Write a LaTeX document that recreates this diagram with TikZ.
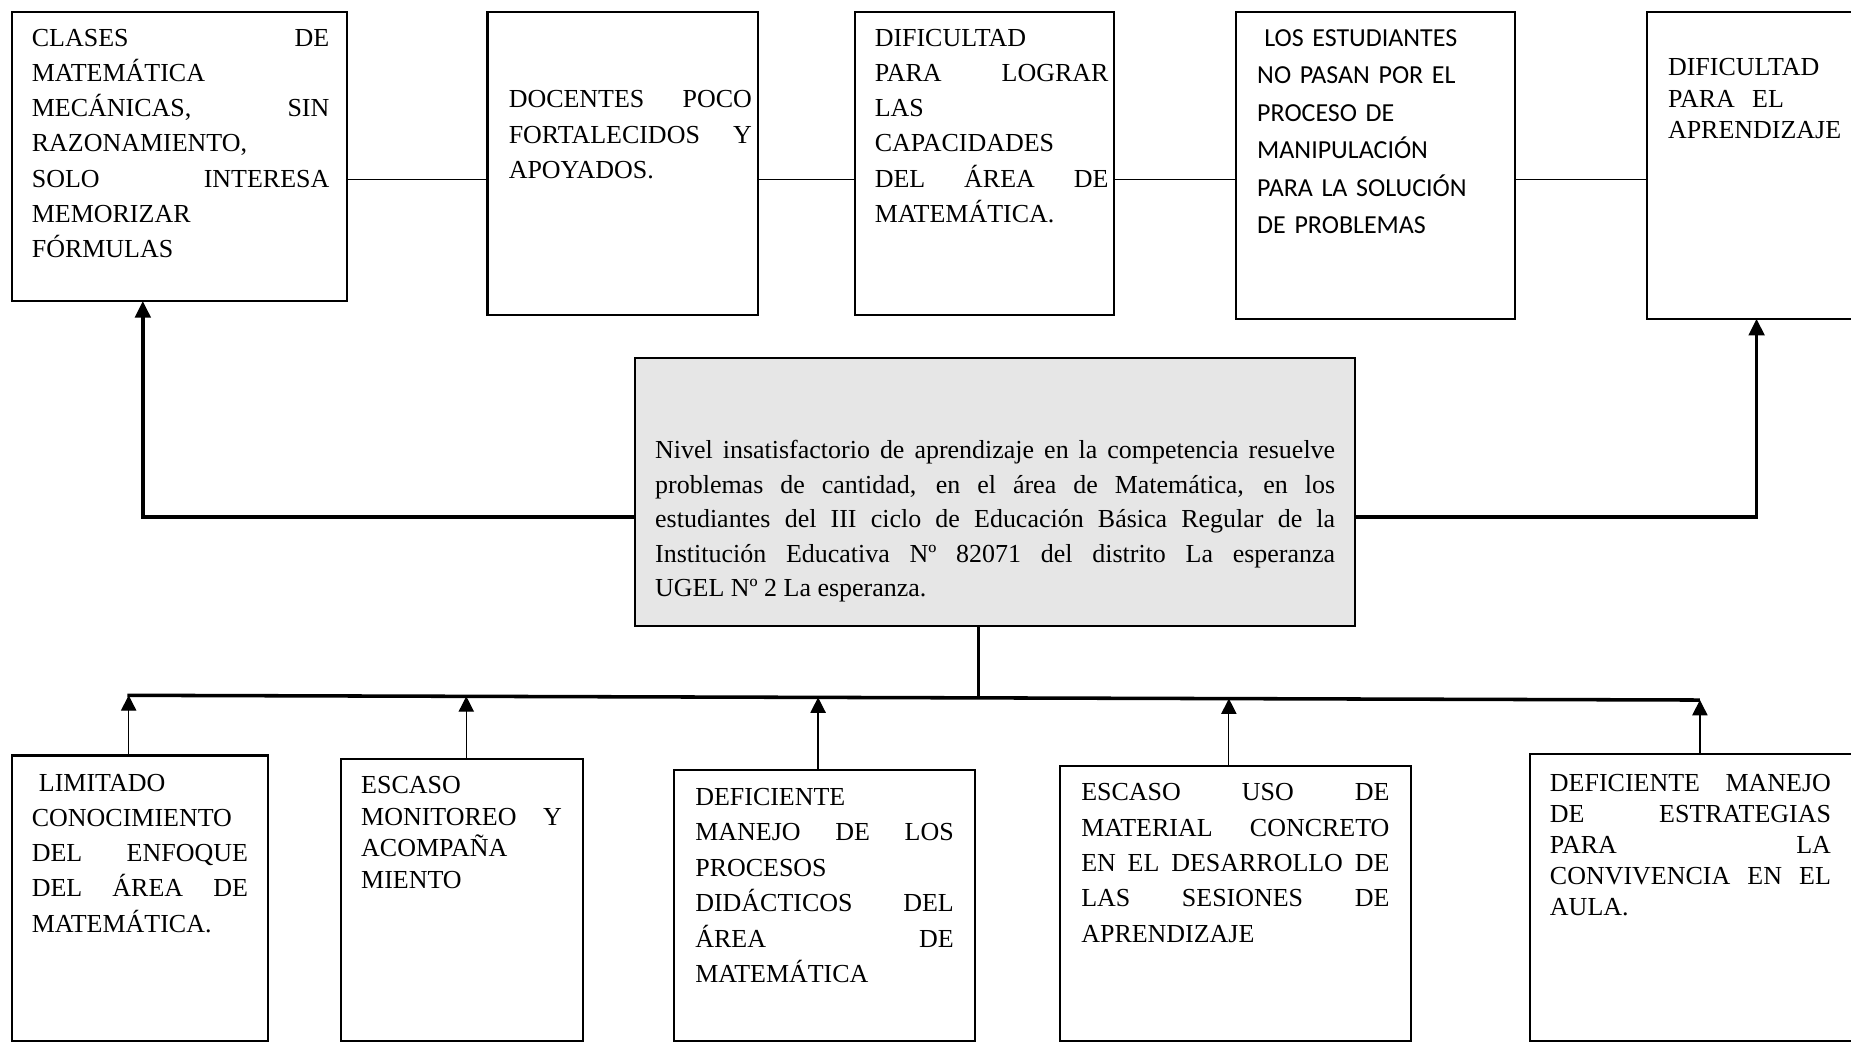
\documentclass[tikz,border=0pt]{standalone}
\usepackage{fontspec}
\setmainfont{Liberation Serif}
\newfontfamily\calibfont{Carlito}
\usetikzlibrary{arrows.meta,fit}
\definecolor{boxgray}{HTML}{E6E6E6}
\newcommand\mypar{\tolerance=10000\hyphenpenalty=10000\exhyphenpenalty=10000\hbadness=10000\relax}
\newcommand\fst{\rule{0pt}{10pt}}
\begin{document}
\begin{tikzpicture}[x=0.5pt,y=-0.5pt,
  box/.style={draw,line width=0.9pt,inner sep=0pt,outer sep=0pt},
  txt/.style={anchor=north west,inner sep=0pt,outer sep=0pt,align=justify},
  link/.style={line width=0.6pt},
  heavy/.style={line width=1.5pt},
  heavyarr/.style={line width=1.5pt,-{Triangle[width=6.5pt,length=7pt]}},
  stem/.style={line width=0.5pt,-{Triangle[width=6.5pt,length=6.5pt]}}
]
\useasboundingbox (0,0) rectangle (1568,884);
\clip (0,0) rectangle (1568,884);
\fill[white] (0,0) rectangle (1568,884);

% ---- boxes
\node[box,fit={(10,10)(294,255)}] (t1) {};
\node[box,fit={(413,10)(642,267)}] (t2) {};
\node[box,fit={(724,10)(944,267)}] (t3) {};
\node[box,fit={(1047,10)(1283,270)}] (t4) {};
\node[box,fit={(1395,10)(1620,270)}] (t5) {};
\node[box,fill=boxgray,fit={(538,303)(1148,530)}] (m) {};
\node[box,fit={(10,640)(227,882)}] (c1) {};
\node[box,fit={(289,643)(494,882)}] (c2) {};
\node[box,fit={(571,652)(826,882)}] (c3) {};
\node[box,fit={(898,649)(1195,882)}] (c4) {};
\node[box,fit={(1296,639)(1620,882)}] (c5) {};

% ---- texts
\node[txt,text width=126pt,font=\fontsize{11}{14.9}\selectfont] (t1x) at (27,19.3)
 {\mypar\fst CLASES DE\linebreak MATEMÁTICA\linebreak MECÁNICAS, SIN\linebreak RAZONAMIENTO,\linebreak SOLO INTERESA\linebreak MEMORIZAR\linebreak FÓRMULAS};
\node[txt,text width=103pt,font=\fontsize{11}{15}\selectfont] (t2x) at (431,71.3)
 {\mypar\fst DOCENTES POCO\linebreak FORTALECIDOS Y\linebreak APOYADOS.};
\node[txt,text width=99pt,font=\fontsize{11}{14.9}\selectfont] (t3x) at (741,19.3)
 {\mypar\fst DIFICULTAD\linebreak PARA LOGRAR\linebreak LAS\linebreak CAPACIDADES\linebreak DEL ÁREA DE\linebreak MATEMÁTICA.};
\node[txt,align=left,text width=115pt,font=\calibfont\fontsize{11}{15.9}\selectfont] (t4x) at (1065,19)
 {\fst\hspace*{3pt}LOS ESTUDIANTES\\ NO PASAN POR EL\\ PROCESO DE\\ MANIPULACIÓN\\ PARA LA SOLUCIÓN\\ DE PROBLEMAS};
\node[txt,align=left,text width=80pt,font=\fontsize{11}{13.25}\selectfont] (t5x) at (1413,44.3)
 {\fst DIFICULTAD\\ PARA\ \ EL\\ APRENDIZAJE};
\node[txt,text width=288pt,font=\fontsize{11}{14.65}\selectfont] (mx) at (555,368.4)
 {\mypar\fst Nivel insatisfactorio de aprendizaje en la competencia resuelve\linebreak problemas de cantidad, en el área de Matemática, en los\linebreak estudiantes del III ciclo de Educación Básica Regular de la\linebreak Institución Educativa Nº 82071 del distrito La esperanza\linebreak UGEL Nº 2 La esperanza.};
\node[txt,text width=91.5pt,font=\fontsize{11}{14.9}\selectfont] (c1x) at (27,650.3)
 {\mypar\fst\hspace*{3pt}LIMITADO\linebreak CONOCIMIENTO\linebreak DEL ENFOQUE\linebreak DEL ÁREA DE\linebreak MATEMÁTICA.};
\node[txt,text width=85pt,font=\fontsize{11}{13.35}\selectfont] (c2x) at (306,652.3)
 {\mypar\fst ESCASO\linebreak MONITOREO Y\linebreak ACOMPAÑA\linebreak MIENTO};
\node[txt,text width=109.5pt,font=\fontsize{11}{15}\selectfont] (c3x) at (589,662.3)
 {\mypar\fst DEFICIENTE\linebreak MANEJO DE LOS\linebreak PROCESOS\linebreak DIDÁCTICOS DEL\linebreak ÁREA DE\linebreak MATEMÁTICA};
\node[txt,text width=130.5pt,font=\fontsize{11}{15}\selectfont] (c4x) at (916,658.3)
 {\mypar\fst ESCASO USO DE\linebreak MATERIAL CONCRETO\linebreak EN EL DESARROLLO DE\linebreak LAS SESIONES DE\linebreak APRENDIZAJE};
\node[txt,text width=119pt,font=\fontsize{11}{13.1}\selectfont] (c5x) at (1313,650.3)
 {\mypar\fst DEFICIENTE MANEJO\linebreak DE ESTRATEGIAS\linebreak PARA LA\linebreak CONVIVENCIA EN EL\linebreak AULA.};

% ---- top connectors
\coordinate (hy) at (0,152);
\draw[link] (t1.east |- hy) -- (t2.west |- hy);
\draw[link] (t2.east |- hy) -- (t3.west |- hy);
\draw[link] (t3.east |- hy) -- (t4.west |- hy);
\draw[link] (t4.east |- hy) -- (t5.west |- hy);

% ---- central to top effects
\coordinate (lc) at (121,438);
\draw[heavyarr] (m.west |- lc) -- (lc) -- (lc |- t1.south);
\coordinate (rc) at (1488,438);
\draw[heavyarr] (m.east |- rc) -- (rc) -- (rc |- t5.south);

% ---- bottom bus
\coordinate (bL) at (108,589);
\coordinate (bR) at (1440,593);
\coordinate (bj) at (829,591.2);
\draw[heavy] (bL) -- (bR);
\draw[heavy] (m.south -| bj) -- (bj);

\coordinate (a1) at (109,589);
\coordinate (a2) at (395,589.9);
\coordinate (a3) at (693,590.8);
\coordinate (a4) at (1041,591.8);
\coordinate (a5) at (1440,593);
\draw[stem] (c1.north -| a1) -- (a1);
\draw[stem] (c2.north -| a2) -- (a2);
\draw[stem] (c3.north -| a3) -- (a3);
\draw[stem] (c4.north -| a4) -- (a4);
\draw[stem] (c5.north -| a5) -- (a5);
\end{tikzpicture}
\end{document}
